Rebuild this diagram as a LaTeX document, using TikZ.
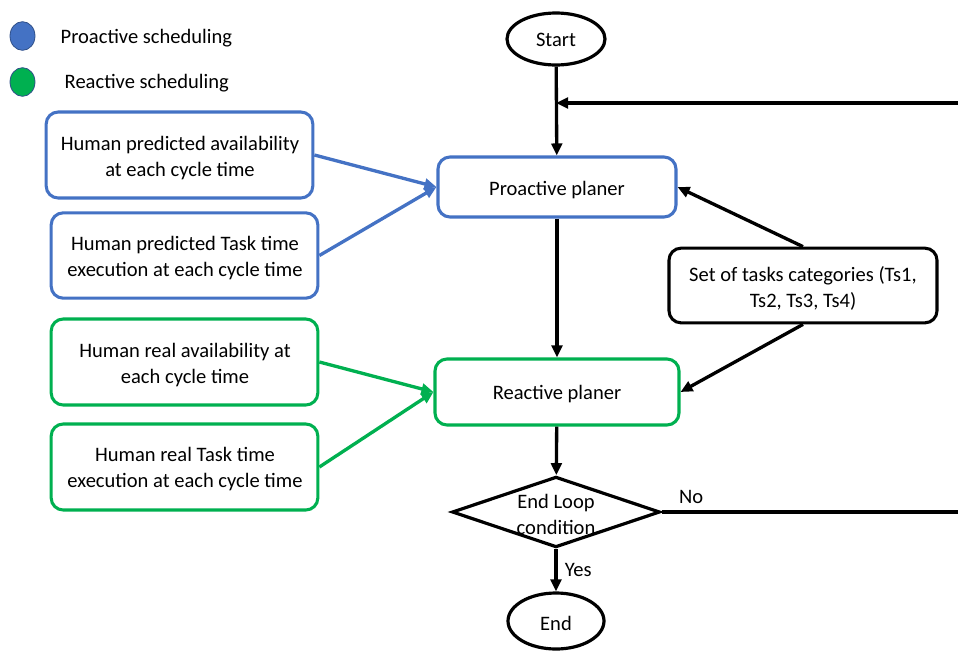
\documentclass[tikz,border=0pt]{standalone}
\usepackage{fontspec}
\setmainfont{Carlito}
\usetikzlibrary{shapes.geometric,arrows.meta}
\definecolor{pblue}{HTML}{4472C4}
\definecolor{rgreen}{HTML}{00B050}
\tikzset{
  every node/.style={font=\fontsize{15.4}{19.5}\selectfont, align=center},
  box/.style={draw, rounded corners=9pt, line width=2.3pt, fill=white, inner sep=0pt},
  bluebox/.style={box, draw=pblue},
  greenbox/.style={box, draw=rgreen},
  blackbox/.style={box, draw=black},
  term/.style={ellipse, draw, line width=2.4pt, inner sep=0pt},
  conn/.style={line width=2.5pt, -{Triangle[length=9pt,width=8pt]}},
  bconn/.style={conn, draw=pblue},
  gconn/.style={conn, draw=rgreen},
  legdot/.style={ellipse, inner sep=0pt, minimum width=18.75pt, minimum height=21.5pt, line width=0.6pt}
}
\begin{document}
\begin{tikzpicture}[x=0.75pt,y=-0.75pt]
\useasboundingbox (0,0) rectangle (958,651);
% legend
\node[legdot, fill=pblue, draw=pblue!70!black] (lp) at (22.5,36) {};
\node[anchor=west] (lpt) at (56,38) {Proactive scheduling};
\node[legdot, fill=rgreen, draw=pblue!70!black] (lr) at (22.5,82) {};
\node[anchor=west] (lrt) at (60,83) {Reactive scheduling};
% main flow
\node[term, minimum width=73.5pt, minimum height=39pt] (start) at (556,39) {};
\node (startt) at (556,40) {Start};
\node[bluebox, minimum width=178.5pt, minimum height=45pt] (pro) at (557,187) {};
\node (prot) at (557,190) {Proactive planer};
\node[greenbox, minimum width=183pt, minimum height=49.5pt] (rea) at (557,392) {};
\node (reat) at (557,394) {Reactive planer};
\node[diamond, draw, line width=2.4pt, minimum width=156pt, minimum height=53pt, inner sep=0pt] (dec) at (556,512) {};
\node (dect) at (556,514) {End Loop\\condition};
\node[term, minimum width=72pt, minimum height=42pt] (end) at (556,621) {};
\node (endt) at (556,623) {End};
% inputs
\node[bluebox, minimum width=200pt, minimum height=64.5pt] (b1) at (179.5,155) {};
\node (b1t) at (180,158) {Human predicted availability\\at each cycle time};
\node[bluebox, minimum width=200pt, minimum height=64pt] (b2) at (184.5,255.5) {};
\node (b2t) at (185,258) {Human predicted Task time\\execution at each cycle time};
\node[greenbox, minimum width=200pt, minimum height=64.5pt] (g1) at (184.5,362) {};
\node (g1t) at (185,365) {Human real availability at\\each cycle time};
\node[greenbox, minimum width=200pt, minimum height=64.5pt] (g2) at (184.5,467) {};
\node (g2t) at (185,469) {Human real Task time\\execution at each cycle time};
\node[blackbox, minimum width=201pt, minimum height=56pt] (ts) at (803,285.5) {};
\node (tst) at (803,288) {Set of tasks categories (Ts1,\\Ts2, Ts3, Ts4)};
% connectors
\draw[conn] (start) -- (pro);
\draw[conn] (pro) -- (rea);
\draw[conn] (rea) -- (dec);
\draw[conn] (dec) -- node[right, xshift=2pt] {Yes} (end);
\coordinate (noR) at (958,512);
\draw[line width=2.5pt] (dec.east) -- node[pos=0.1, above, yshift=2pt] {No} (noR);
\coordinate (fbR) at (958,103);
\draw[conn] (fbR) -- (start.south |- fbR);
\draw[bconn] (b1.east) -- (pro.west);
\draw[bconn] (b2.east) -- (pro.west);
\draw[gconn] (g1.east) -- (rea.west);
\draw[gconn] (g2.east) -- (rea.west);
\draw[conn] (ts.north) -- (pro.east);
\draw[conn] (ts.south) -- (rea.east);
\end{tikzpicture}
\end{document}
